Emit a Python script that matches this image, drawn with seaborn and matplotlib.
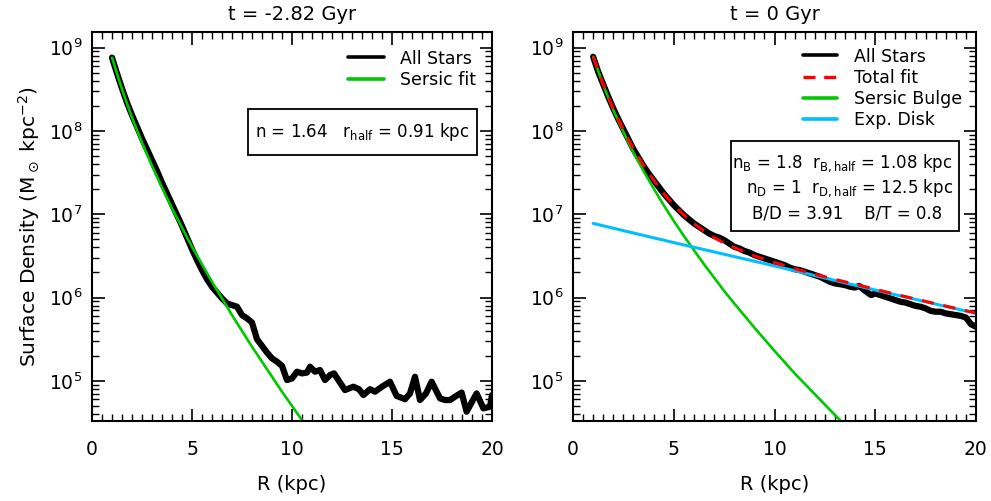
import numpy as np
import pandas as pd
import matplotlib
matplotlib.use("Agg")
import matplotlib.pyplot as plt
from matplotlib.ticker import MultipleLocator, LogLocator
from matplotlib.patches import Rectangle
from matplotlib.lines import Line2D
import seaborn as sns

# ---------------- data (log10 of surface density, Msun/kpc^2) ----------------
# left panel, t = -2.82 Gyr
left_stars_R = [1.0, 1.25, 1.5, 1.75, 2.0, 2.25, 2.5, 2.75, 3.0, 3.25, 3.5, 3.75, 4.0,
                4.25, 4.5, 4.75, 5.0, 5.25, 5.5, 5.75, 6.0, 6.25, 6.5, 6.75, 7.0, 7.25,
                7.5, 7.75, 8.0, 8.25, 8.5, 8.75, 9.0, 9.25, 9.5, 9.75, 10.0, 10.25, 10.5,
                10.75, 10.9, 11.15, 11.4, 11.65, 11.9, 12.1, 12.4, 12.65, 13.07, 13.35,
                13.57, 13.9, 14.15, 14.5, 14.9, 15.23, 15.65, 15.9, 16.15, 16.4, 16.7,
                16.98, 17.4, 17.65, 17.9, 18.15, 18.48, 18.73, 19.0, 19.23, 19.57, 19.9, 20.0]
left_stars_logS = [8.88, 8.69, 8.51, 8.34, 8.19, 8.05, 7.91, 7.78, 7.65, 7.52, 7.38, 7.25, 7.12,
                   6.99, 6.86, 6.72, 6.58, 6.45, 6.33, 6.22, 6.13, 6.06, 5.99, 5.93, 5.91, 5.89,
                   5.79, 5.75, 5.70, 5.50, 5.42, 5.34, 5.27, 5.23, 5.18, 5.01, 5.03, 5.11, 5.09,
                   5.10, 5.17, 5.11, 5.13, 5.01, 5.07, 5.09, 4.98, 4.89, 4.93, 4.90,
                   4.83, 4.90, 4.87, 4.93, 4.99, 4.82, 4.78, 4.85, 5.05, 4.77, 4.85,
                   4.99, 4.79, 4.77, 4.77, 4.81, 4.86, 4.63, 4.75, 4.85, 4.67, 4.69, 4.83]
left_sersic_R = [1.0, 1.5, 2.0, 2.5, 3.0, 3.5, 4.0, 4.5, 5.0, 5.5, 6.0, 6.5, 7.0, 7.5, 8.0,
                 8.5, 9.0, 9.5, 10.0, 10.7]
left_sersic_logS = [8.88, 8.50, 8.16, 7.86, 7.58, 7.32, 7.07, 6.84, 6.61, 6.40, 6.19, 5.99,
                    5.79, 5.60, 5.41, 5.23, 5.05, 4.87, 4.70, 4.46]

# right panel, t = 0 Gyr
right_stars_R = [1.0, 1.25, 1.5, 1.75, 2.0, 2.25, 2.5, 2.75, 3.0, 3.25, 3.5, 3.75, 4.0, 4.25,
                 4.5, 4.75, 5.0, 5.25, 5.5, 5.75, 6.0, 6.25, 6.5, 6.75, 7.0, 7.25, 7.5, 7.75,
                 8.0, 8.25, 8.5, 8.75, 9.0, 9.25, 9.5, 9.75, 10.0, 10.25, 10.5, 10.75, 11.0,
                 11.25, 11.5, 11.75, 12.0, 12.25, 12.5, 12.75, 13.0, 13.25, 13.5, 13.75, 14.0,
                 14.2, 14.5, 14.8, 15.0, 15.25, 15.5, 15.75, 16.0, 16.25, 16.5, 16.75, 17.0,
                 17.25, 17.5, 17.75, 18.0, 18.25, 18.5, 18.75, 19.0, 19.25, 19.5, 19.75, 20.0]
right_stars_logS = [8.89, 8.71, 8.56, 8.41, 8.27, 8.14, 8.02, 7.90, 7.78, 7.68, 7.58, 7.49,
                    7.41, 7.33, 7.25, 7.18, 7.11, 7.05, 6.99, 6.94, 6.89, 6.85, 6.81, 6.77,
                    6.74, 6.72, 6.69, 6.65, 6.61, 6.59, 6.56, 6.54, 6.51, 6.49, 6.47, 6.45,
                    6.43, 6.41, 6.39, 6.36, 6.34, 6.33, 6.31, 6.29, 6.27, 6.25, 6.22, 6.19,
                    6.17, 6.16, 6.15, 6.13, 6.12, 6.14, 6.08, 6.03, 6.05, 6.03, 6.01, 5.99,
                    5.97, 5.95, 5.94, 5.92, 5.90, 5.89, 5.87, 5.84, 5.83, 5.83, 5.81, 5.80,
                    5.79, 5.78, 5.76, 5.68, 5.65]
right_total_R = [1.0, 1.5, 2.0, 2.5, 3.0, 3.5, 4.0, 4.5, 5.0, 5.5, 6.0, 6.5, 7.0, 7.5, 8.0,
                 9.0, 10.0, 11.0, 12.0, 13.0, 14.0, 16.0, 18.0, 20.0]
right_total_logS = [8.894, 8.559, 8.266, 8.017, 7.785, 7.588, 7.41, 7.25, 7.11, 6.991, 6.889,
                    6.799, 6.72, 6.655, 6.60, 6.50, 6.42, 6.347, 6.28, 6.218, 6.16, 6.04,
                    5.925, 5.815]
right_bulge_R = [1.0, 1.5, 2.0, 2.5, 3.0, 3.5, 4.0, 4.5, 5.0, 5.5, 6.0, 6.5, 7.0, 7.5, 8.0,
                 9.0, 10.0, 11.0, 12.0, 13.0, 13.5]
right_bulge_logS = [8.89, 8.55, 8.25, 7.99, 7.74, 7.52, 7.31, 7.11, 6.92, 6.74, 6.57, 6.40,
                    6.24, 6.08, 5.93, 5.64, 5.36, 5.09, 4.84, 4.59, 4.47]
right_disk_R = [1.0, 5.0, 10.0, 15.0, 20.0]
right_disk_logS = [6.89, 6.66, 6.38, 6.09, 5.81]

titles = ["t = -2.82 Gyr", "t = 0 Gyr"]
left_box_text = r"n = 1.64   r$_{\mathregular{half}}$ = 0.91 kpc"
right_box_lines = [r"n$_{\mathregular{B}}$ = 1.8  r$_{\mathregular{B,half}}$ = 1.08 kpc",
                   r"n$_{\mathregular{D}}$ = 1  r$_{\mathregular{D,half}}$ = 12.5 kpc",
                   r"B/D = 3.91    B/T = 0.8"]

# ---------------- styling ----------------
sns.set_theme(style="ticks")
plt.rcParams["font.family"] = ["DejaVu Sans"]
plt.rcParams["mathtext.fontset"] = "dejavusans"
plt.rcParams["axes.linewidth"] = 1.5
for k in ["text.color", "axes.labelcolor", "xtick.color", "ytick.color", "axes.edgecolor"]:
    plt.rcParams[k] = "black"

BLACK = "#000000"
GREEN = "#00C800"
BLUE = "#00BFFF"
RED = "#FF0000"

fig = plt.figure(figsize=(9.91, 5.01), dpi=100)
axL = fig.add_axes([92 / 991, 1 - 421 / 501, 400 / 991, 389 / 501])
axR = fig.add_axes([573 / 991, 1 - 421 / 501, 403 / 991, 389 / 501])


def df(R, logS):
    return pd.DataFrame({"R": R, "S": np.power(10.0, np.asarray(logS))})


def style_axes(ax, title):
    ax.set_yscale("log")
    ax.set_xlim(0, 20)
    ax.set_ylim(3.3e4, 1.54e9)
    ax.xaxis.set_major_locator(MultipleLocator(5))
    ax.xaxis.set_minor_locator(MultipleLocator(0.5))
    ax.yaxis.set_major_locator(LogLocator(base=10))
    ax.yaxis.set_minor_locator(LogLocator(base=10, subs=np.arange(2, 10)))
    ax.tick_params(which="both", direction="in", top=True, right=True, colors="black")
    ax.tick_params(which="major", length=9, width=1.2, labelsize=13.5)
    ax.tick_params(which="minor", length=5, width=1.0)
    ax.tick_params(axis="x", which="both", pad=14)
    ax.tick_params(axis="y", which="both", pad=7)
    for s in ax.spines.values():
        s.set_linewidth(1.5)
        s.set_color("black")
    ax.set_title(title, fontsize=14, pad=9, color="black")
    ax.set_xlabel("R (kpc)", fontsize=14, labelpad=11)


# left panel
d = df(left_stars_R, left_stars_logS)
sns.lineplot(data=d, x="R", y="S", ax=axL, color=BLACK, lw=4.5, solid_joinstyle="round",
             solid_capstyle="round")
d = df(left_sersic_R, left_sersic_logS)
sns.lineplot(data=d, x="R", y="S", ax=axL, color=GREEN, lw=1.9)
style_axes(axL, titles[0])
axL.set_ylabel(r"Surface Density (M$_\odot$ kpc$^{-2}$)", fontsize=14.5, labelpad=5)

hL = [Line2D([], [], color=BLACK, lw=2.6), Line2D([], [], color=GREEN, lw=2.6)]
legL = axL.legend(hL, ["All Stars", "Sersic fit"], loc="upper right",
                  bbox_to_anchor=(0.96, 0.955), frameon=False, fontsize=12.5,
                  handlelength=2.1, handletextpad=0.9, labelspacing=0.22,
                  borderpad=0, borderaxespad=0)
axL.add_patch(Rectangle((0.39, 0.684), 0.5725, 0.118, transform=axL.transAxes,
                        fill=False, ec="black", lw=1.3, zorder=5))
axL.text(0.676, 0.743, left_box_text, transform=axL.transAxes, ha="center", va="center",
         fontsize=12)

# right panel
d = df(right_stars_R, right_stars_logS)
sns.lineplot(data=d, x="R", y="S", ax=axR, color=BLACK, lw=4.5, solid_joinstyle="round",
             solid_capstyle="round")
d = df(right_bulge_R, right_bulge_logS)
sns.lineplot(data=d, x="R", y="S", ax=axR, color=GREEN, lw=1.9)
d = df(right_disk_R, right_disk_logS)
sns.lineplot(data=d, x="R", y="S", ax=axR, color=BLUE, lw=2.2)
d = df(right_total_R, right_total_logS)
sns.lineplot(data=d, x="R", y="S", ax=axR, color=RED, lw=2.2, dashes=False,
             linestyle=(0, (4, 3.2)))
style_axes(axR, titles[1])
axR.set_ylabel("")

hR = [Line2D([], [], color=BLACK, lw=2.6),
      Line2D([], [], color=RED, lw=2.4, linestyle=(0, (3.6, 2.6))),
      Line2D([], [], color=GREEN, lw=2.6),
      Line2D([], [], color=BLUE, lw=2.6)]
legR = axR.legend(hR, ["All Stars", "Total fit", "Sersic Bulge", "Exp. Disk"],
                  loc="upper right", bbox_to_anchor=(0.965, 0.96), frameon=False,
                  fontsize=12.5, handlelength=2.0, handletextpad=0.95, labelspacing=0.18,
                  borderpad=0, borderaxespad=0)
axR.add_patch(Rectangle((0.392, 0.488), 0.566, 0.232, transform=axR.transAxes,
                        fill=False, ec="black", lw=1.3, zorder=5))
axR.text(0.943, (421 - 163) / 389, right_box_lines[0], transform=axR.transAxes,
         ha="right", va="center", fontsize=12)
axR.text(0.943, (421 - 188) / 389, right_box_lines[1], transform=axR.transAxes,
         ha="right", va="center", fontsize=12)
axR.text(0.680, (421 - 213) / 389, right_box_lines[2], transform=axR.transAxes,
         ha="center", va="center", fontsize=12)

fig.savefig("out.png", dpi=100)
